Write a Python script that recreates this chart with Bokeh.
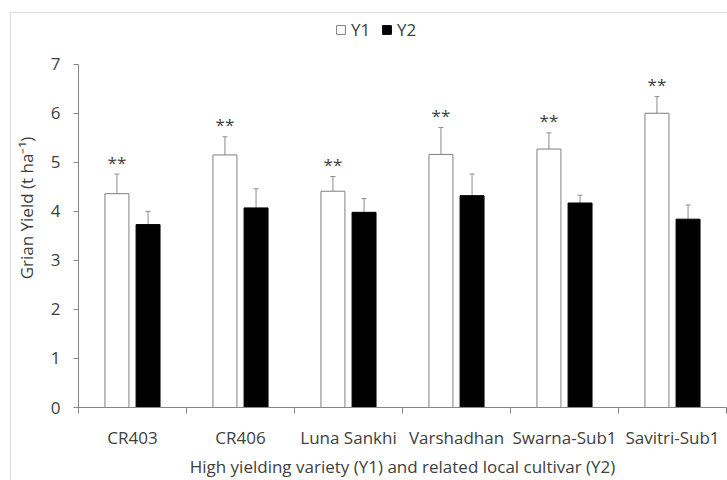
from bokeh.plotting import figure
from bokeh.models import (ColumnDataSource, Range1d, FixedTicker, Whisker, TeeHead,
                          Legend, LegendItem)
from bokeh.core.properties import value
from bokeh.embed import file_html
from bokeh.resources import INLINE
import numpy as np

# Grain yield (t/ha) of high yielding varieties (Y1) and related local cultivars (Y2)
categories = ["CR403", "CR406", "Luna Sankhi", "Varshadhan", "Swarna-Sub1", "Savitri-Sub1"]
y1 = [4.36, 5.15, 4.41, 5.16, 5.27, 6.00]
y1_err = [0.40, 0.37, 0.30, 0.55, 0.33, 0.34]
y2 = [3.73, 4.07, 3.98, 4.32, 4.17, 3.84]
y2_err = [0.27, 0.39, 0.28, 0.44, 0.16, 0.29]
significance = ["**", "**", "**", "**", "**", "**"]
y_ticks = [0, 1, 2, 3, 4, 5, 6, 7]

FONT = "Open Sans"
TEXT = "#404040"
AXIS = "#868686"
FRAME = "#dedede"

n = len(categories)
centers = np.arange(n) + 0.5
dx = 0.144
bw = 0.222

y1_top = [v + e for v, e in zip(y1, y1_err)]
y2_top = [v + e for v, e in zip(y2, y2_err)]

src1 = ColumnDataSource(dict(x=centers - dx, val=y1, top=y1_top, star=significance))
src2 = ColumnDataSource(dict(x=centers + dx, val=y2, top=y2_top))

# plot frame runs from y=8 px to y=409 px; the value axis itself stops at 7,
# leaving room above it for the legend
FRAME_TOP, FRAME_BOTTOM, AXIS_TOP = 8, 409, 64
y_max = y_ticks[-1] * (FRAME_BOTTOM - FRAME_TOP) / (FRAME_BOTTOM - AXIS_TOP)

# thin light border of the chart area (left and top edges), drawn behind the canvas
chart_border = {
    "background": (f"linear-gradient({FRAME},{FRAME}) 10px 12px / 1px 100% no-repeat, "
                   f"linear-gradient({FRAME},{FRAME}) 10px 12px / 100% 1px no-repeat, white"),
}

p = figure(width=727, height=480, output_backend="svg", toolbar_location=None,
           x_range=Range1d(0, n), y_range=Range1d(0, y_max),
           min_border_left=78, min_border_right=1, min_border_top=FRAME_TOP,
           min_border_bottom=480 - FRAME_BOTTOM, styles=chart_border)
p.outline_line_color = None
p.xgrid.grid_line_color = None
p.ygrid.grid_line_color = None
p.background_fill_color = None
p.border_fill_color = None

r1 = p.vbar(x="x", top="val", width=bw, source=src1, fill_color="white",
            line_color="#7f7f7f", line_width=1)
r2 = p.vbar(x="x", top="val", width=bw, source=src2, fill_color="black",
            line_color="black", line_width=1)

for src in (src1, src2):
    p.add_layout(Whisker(source=src, base="x", lower="val", upper="top", dimension="height",
                         line_color="#8c8c8c", line_width=1,
                         upper_head=TeeHead(size=5, line_color="#8c8c8c", line_width=1),
                         lower_head=None))

p.text(x="x", y="top", text="star", source=src1, text_align="center", text_baseline="middle",
       y_offset=-12, text_font=value(FONT), text_font_size="17px", text_color=TEXT)

# y axis
ya = p.yaxis[0]
ya.ticker = FixedTicker(ticks=y_ticks)
ya.bounds = (y_ticks[0], y_ticks[-1])
ya.axis_line_color = AXIS
ya.major_tick_line_color = AXIS
ya.major_tick_out = 5
ya.major_tick_in = 0
ya.minor_tick_line_color = None
ya.major_label_standoff = 13
ya.major_label_text_font = FONT
ya.major_label_text_font_size = "17px"
ya.major_label_text_color = TEXT
ya.axis_label = "Grian Yield (t ha\u207b\u00b9)"
ya.axis_label_text_font = FONT
ya.axis_label_text_font_size = "17px"
ya.axis_label_text_font_style = "normal"
ya.axis_label_text_color = TEXT
ya.axis_label_standoff = 10

# x axis: labels at category centres, ticks at category boundaries
xa = p.xaxis[0]
xa.ticker = FixedTicker(ticks=list(centers), minor_ticks=list(range(n + 1)))
xa.major_label_overrides = {float(c): lab for c, lab in zip(centers, categories)}
xa.axis_line_color = AXIS
xa.major_tick_line_color = None
xa.minor_tick_line_color = AXIS
xa.minor_tick_out = 6
xa.minor_tick_in = 0
xa.major_label_standoff = 12
xa.major_label_text_font = FONT
xa.major_label_text_font_size = "17px"
xa.major_label_text_color = TEXT
xa.axis_label = "High yielding variety (Y1) and related local cultivar (Y2)"
xa.axis_label_text_font = FONT
xa.axis_label_text_font_size = "17px"
xa.axis_label_text_font_style = "normal"
xa.axis_label_text_color = TEXT
xa.axis_label_standoff = 3

legend = Legend(items=[LegendItem(label="Y1", renderers=[r1]),
                       LegendItem(label="Y2", renderers=[r2])],
                orientation="horizontal", location=(257, 366),
                glyph_width=11, glyph_height=11, label_standoff=5, spacing=10,
                padding=0, margin=0, border_line_color=None, background_fill_alpha=0,
                label_text_font=FONT, label_text_font_size="17px", label_text_color=TEXT)
p.add_layout(legend, "center")

open("out.html", "w").write(file_html(p, INLINE))
